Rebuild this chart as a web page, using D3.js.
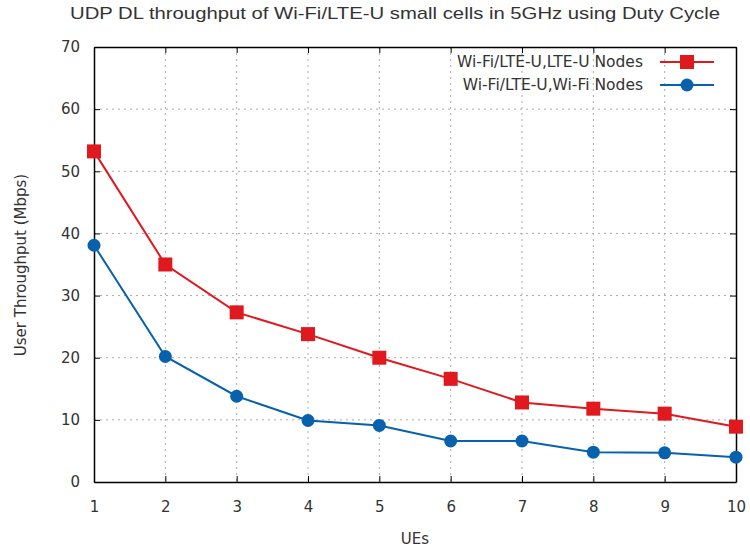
<!DOCTYPE html>
<html>
<head>
<meta charset="utf-8">
<script src="https://cdn.jsdelivr.net/npm/d3@7"></script>
<style>
  body { margin: 0; background: #fff; }
  text { font-family: "DejaVu Sans", sans-serif; fill: #333; }
</style>
</head>
<body>
<div id="chart"></div>
<script>
var ues = [1, 2, 3, 4, 5, 6, 7, 8, 9, 10];
var lteNodes = [53.2, 35.0, 27.3, 23.8, 20.0, 16.6, 12.8, 11.8, 11.0, 8.9];
var wifiNodes = [38.1, 20.2, 13.8, 9.9, 9.1, 6.6, 6.6, 4.8, 4.7, 4.0];
var yTicks = [0, 10, 20, 30, 40, 50, 60, 70];
var seriesNames = ["Wi-Fi/LTE-U,LTE-U Nodes", "Wi-Fi/LTE-U,Wi-Fi Nodes"];

var width = 750, height = 553;
var margin = { top: 47, right: 14, bottom: 71, left: 94 };
var w = width - margin.left - margin.right;
var h = height - margin.top - margin.bottom;

var svg = d3.select("#chart").append("svg")
    .attr("width", width)
    .attr("height", height);

var g = svg.append("g")
    .attr("transform", "translate(" + margin.left + "," + margin.top + ")");

var x = d3.scaleLinear().domain([1, 10]).range([0, w]);
var y = d3.scaleLinear().domain([0, 70]).range([h, 0]);

// grid
g.selectAll(".vgrid")
  .data(ues.slice(1, -1))
  .enter().append("line")
  .attr("x1", function(d) { return x(d); })
  .attr("x2", function(d) { return x(d); })
  .attr("y1", 0).attr("y2", h)
  .style("stroke", "#aaa")
  .style("stroke-dasharray", "2,4");

g.selectAll(".hgrid")
  .data(yTicks.slice(1, -1))
  .enter().append("line")
  .attr("x1", 0).attr("x2", w)
  .attr("y1", function(d) { return y(d); })
  .attr("y2", function(d) { return y(d); })
  .style("stroke", "#aaa")
  .style("stroke-dasharray", "2,4");

// axes (inner ticks, mirrored)
var xb = g.append("g").attr("transform", "translate(0," + h + ")")
  .call(d3.axisBottom(x).tickValues(ues).tickSize(-6).tickSizeOuter(0).tickPadding(19).tickFormat(d3.format("d")));
var xt = g.append("g")
  .call(d3.axisTop(x).tickValues(ues).tickSize(-6).tickSizeOuter(0).tickFormat(""));
var yl = g.append("g")
  .call(d3.axisLeft(y).tickValues(yTicks).tickSize(-6).tickSizeOuter(0).tickPadding(14));
var yr = g.append("g").attr("transform", "translate(" + w + ",0)")
  .call(d3.axisRight(y).tickValues(yTicks).tickSize(-6).tickSizeOuter(0).tickFormat(""));

[xb, xt, yl, yr].forEach(function(a) {
  a.select(".domain").style("stroke", "#000").style("stroke-width", 1.5);
  a.selectAll(".tick line").style("stroke", "#000");
  a.selectAll("text").style("font-size", "15px").style("font-family", "DejaVu Sans").attr("fill", "#333");
});

var line = d3.line()
  .x(function(d, i) { return x(ues[i]); })
  .y(function(d) { return y(d); });

var red = "#e0191f", blue = "#0861ad";

g.append("path").datum(lteNodes).attr("d", line)
  .style("fill", "none").style("stroke", red).style("stroke-width", 2);
g.append("path").datum(wifiNodes).attr("d", line)
  .style("fill", "none").style("stroke", blue).style("stroke-width", 2);

g.selectAll(".sq").data(lteNodes).enter().append("rect")
  .attr("x", function(d, i) { return x(ues[i]) - 7; })
  .attr("y", function(d) { return y(d) - 7; })
  .attr("width", 14).attr("height", 14)
  .style("fill", red);

g.selectAll(".dot").data(wifiNodes).enter().append("circle")
  .attr("cx", function(d, i) { return x(ues[i]); })
  .attr("cy", function(d) { return y(d); })
  .attr("r", 6.5)
  .style("fill", blue);

// legend
var legend = svg.append("g");
[[seriesNames[0], red, "sq", 62], [seriesNames[1], blue, "dot", 85]].forEach(function(s) {
  legend.append("text")
    .attr("x", 643).attr("y", s[3]).attr("dy", "0.35em")
    .attr("text-anchor", "end")
    .style("font-size", "15.5px")
    .text(s[0]);
  legend.append("line")
    .attr("x1", 660).attr("x2", 714)
    .attr("y1", s[3]).attr("y2", s[3])
    .style("stroke", s[1]).style("stroke-width", 2);
  if (s[2] == "sq") {
    legend.append("rect").attr("x", 680).attr("y", s[3] - 7)
      .attr("width", 14).attr("height", 14).style("fill", s[1]);
  } else {
    legend.append("circle").attr("cx", 687).attr("cy", s[3]).attr("r", 6.5).style("fill", s[1]);
  }
});

// titles
svg.append("text")
  .attr("x", 70).attr("y", 19)
  .attr("textLength", 650)
  .attr("lengthAdjust", "spacingAndGlyphs")
  .style("font-family", "Liberation Sans Narrow, Liberation Sans, sans-serif")
  .style("font-size", "17px")
  .text("UDP DL throughput of Wi-Fi/LTE-U small cells in 5GHz using Duty Cycle");

svg.append("text")
  .attr("x", 415).attr("y", 544)
  .attr("text-anchor", "middle")
  .style("font-size", "15px")
  .text("UEs");

svg.append("text")
  .attr("transform", "translate(26,265) rotate(-90)")
  .attr("text-anchor", "middle")
  .style("font-size", "15px")
  .text("User Throughput (Mbps)");
</script>
</body>
</html>
